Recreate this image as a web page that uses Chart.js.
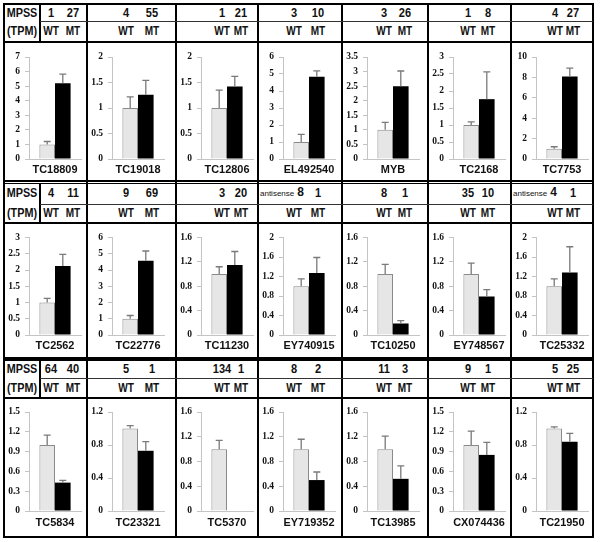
<!DOCTYPE html>
<html><head><meta charset="utf-8">
<script src="https://cdn.jsdelivr.net/npm/chart.js@4.4.0/dist/chart.umd.min.js"></script>
<style>
html,body{margin:0;padding:0;background:#fff;}
#fig{position:relative;width:600px;height:542px;overflow:hidden;font-family:"Liberation Sans",Arial,sans-serif;color:#111;}
.ln{position:absolute;background:#000;}
.tx{position:absolute;font-weight:bold;white-space:nowrap;line-height:1;color:#111;}
.note{position:absolute;white-space:nowrap;line-height:1;display:flex;align-items:baseline;color:#111;}
canvas{position:absolute;}
</style></head><body><div id="fig"></div>
<script>
// ---------- data ----------
const genes = ["TC18809","TC19018","TC12806","EL492540","MYB","TC2168","TC7753",
  "TC2562","TC22776","TC11230","EY740915","TC10250","EY748567","TC25332",
  "TC5834","TC23321","TC5370","EY719352","TC13985","CX074436","TC21950"];
const wtValues = [1,1,1,1,1,1,1, 1,1,1,1,1,1,1, 1,1,1,1,1,1,1];
const wtErrors = [0.2,0.22,0.35,0.45,0.26,0.09,0.2, 0.13,0.2,0.12,0.15,0.16,0.18,0.15, 0.15,0.035,0.14,0.16,0.21,0.21,0.02];
const mtValues = [5.2,1.26,1.42,4.84,2.5,1.76,8.1, 2.12,4.57,1.15,1.27,0.19,0.63,1.28, 0.43,0.73,0,0.5,0.52,0.85,0.84];
const mtErrors = [0.62,0.28,0.2,0.34,0.52,0.8,0.8, 0.36,0.6,0.22,0.32,0.045,0.115,0.53, 0.035,0.11,0,0.13,0.21,0.19,0.1];
const yMax  = [7,2,2,6,3.5,3,10, 3,6,1.6,2,1.6,1.6,2, 1.5,1.2,1.6,1.6,1.6,1.5,1.2];
const yStep = [1,0.5,0.5,1,0.5,0.5,2, 0.5,1,0.4,0.4,0.4,0.4,0.4, 0.3,0.4,0.4,0.4,0.4,0.3,0.4];
const mpssWT = [1,4,1,3,3,1,4, 4,9,3,8,8,35,4, 64,5,134,8,11,9,5];
const mpssMT = [27,55,21,10,26,8,27, 11,69,20,1,1,10,1, 40,1,1,2,3,1,25];
const mpssNote = ["","","","","","","", "","","","antisense","","","antisense", "","","","","","",""];
const groupLabels = ["WT","MT"];
const rowLabelTop = "MPSS", rowLabelBottom = "(TPM)";

// ---------- layout ----------
const fig = document.getElementById('fig');
const colX = [4, 87, 176, 258, 342, 428, 511, 593];
const rows = [
  {top:3,   mid:21,  hb:42,  bottom:181, plotTop:57,    plotBottom:159, numY:13,  wtY:31,  lblY:170},
  {top:183, mid:204, hb:223, bottom:358, plotTop:237.5, plotBottom:335, numY:193, wtY:213, lblY:346},
  {top:361, mid:378, hb:398, bottom:537, plotTop:412,   plotBottom:511, numY:369, wtY:388, lblY:523}
];
const wtPos = [51, 126, 222, 294, 384, 468, 555];
const mtPos = [73, 152, 241, 318, 405, 488, 573];

function line(x,y,w,h,c){const d=document.createElement('div');d.className='ln';
  d.style.cssText=`left:${x}px;top:${y}px;width:${w}px;height:${h}px;background:${c||'#000'}`;fig.appendChild(d);}
function text(s,x,y,size,sx){const d=document.createElement('div');d.className='tx';d.textContent=s;
  d.style.cssText=`left:${x}px;top:${y-size/2}px;font-size:${size}px;transform:translateX(-50%) scaleX(${sx||1});`;fig.appendChild(d);return d;}

// borders & grid lines
for(const x of colX) line(x-1,3,2,535);
line(3,3,591,2);
line(3,180,591,2); line(3,183,591,1.2);
line(3,357,591,3.5);
line(3,536,591,2);
rows.forEach(r=>{
  line(39,r.top,2,r.hb-r.top);
  line(40,r.mid,553,1,'#333');
  line(3,r.hb-1,591,2);
  text(rowLabelTop,22,r.numY,12,0.9);
  text(rowLabelBottom,22,r.wtY,12,0.9);
});

// headers
for(let i=0;i<genes.length;i++){
  const r=rows[Math.floor(i/7)], c=i%7;
  if(mpssNote[i]){
    const d=document.createElement('div');d.className='note';
    d.style.cssText=`left:${colX[c]+2}px;top:${r.numY-7}px;font-size:12px;`;
    const a=document.createElement('span');a.textContent=mpssNote[i];a.style.cssText='font-size:8px;color:#111;';
    const b=document.createElement('span');b.textContent=mpssWT[i];b.style.cssText='font-weight:bold;margin-left:3px;';
    d.appendChild(a);d.appendChild(b);fig.appendChild(d);
  } else {
    text(String(mpssWT[i]),wtPos[c],r.numY,12,0.92);
  }
  text(String(mpssMT[i]),mtPos[c],r.numY,12,0.92);
  text(groupLabels[0],wtPos[c],r.wtY,12,0.84);
  text(groupLabels[1],mtPos[c],r.wtY,12,0.84);
}

// error bar plugin
const errPlugin = {id:'errbars', afterDatasetsDraw(chart){
  const ctx=chart.ctx, ys=chart.scales.y;
  chart.data.datasets.forEach((ds,di)=>{
    const meta=chart.getDatasetMeta(di);
    meta.data.forEach((bar,j)=>{
      const e=ds.err[j]; if(!e) return;
      const v=ds.data[j];
      const y0=ys.getPixelForValue(v), y1=ys.getPixelForValue(v+e);
      ctx.save(); ctx.strokeStyle='#7a7a7a'; ctx.lineWidth=1.3;
      ctx.beginPath(); ctx.moveTo(bar.x,y0); ctx.lineTo(bar.x,y1);
      ctx.moveTo(bar.x-3.5,y1); ctx.lineTo(bar.x+3.5,y1); ctx.stroke(); ctx.restore();
    });
  });
}};

const AXIS_W = 23, PLOT_W = 52;
for(let i=0;i<genes.length;i++){
  const r=rows[Math.floor(i/7)], c=i%7;
  const left=colX[c]+1, width=colX[c+1]-colX[c]-2;
  const top=r.hb+1, height=r.bottom-r.hb-2;
  const cv=document.createElement('canvas');
  cv.width=width; cv.height=height;
  cv.style.left=left+'px'; cv.style.top=top+'px';
  cv.style.width=width+'px'; cv.style.height=height+'px';
  fig.appendChild(cv);
  const axisW = AXIS_W + (colX[c]+1 - left) + 1;
  new Chart(cv.getContext('2d'), {
    type:'bar',
    data:{labels:[genes[i]], datasets:[
      {label:groupLabels[0], data:[wtValues[i]], err:[wtErrors[i]], backgroundColor:'#e6e6e6', borderColor:'#8a8a8a', borderWidth:1},
      {label:groupLabels[1], data:[mtValues[i]], err:[mtErrors[i]], backgroundColor:'#000', borderColor:'#000', borderWidth:0}
    ]},
    options:{
      responsive:false, animation:false, devicePixelRatio:1,
      categoryPercentage:0.6, barPercentage:1,
      layout:{padding:{top:r.plotTop-top, bottom:(top+height)-r.plotBottom, left:0, right:width-axisW-PLOT_W}},
      plugins:{legend:{display:false}, tooltip:{enabled:false}, title:{display:false}},
      scales:{
        x:{grid:{display:false,drawTicks:false}, border:{display:true,color:'#c4c4c4',width:1},
           ticks:{display:false}, afterFit(s){s.height=0;}},
        y:{min:0, max:yMax[i],
           ticks:{stepSize:yStep[i], color:'#111', padding:5,
             font:{family:'"Liberation Serif","Times New Roman",serif', weight:'bold', size:9.5},
             callback:v=>String(Number(Number(v).toFixed(2)))},
           grid:{drawOnChartArea:false, tickLength:4, color:'#c4c4c4'},
           border:{color:'#c4c4c4',width:1},
           afterFit(s){s.width=axisW;}}
      }
    },
    plugins:[errPlugin]
  });
  text(genes[i], colX[c]+25+PLOT_W/2, r.lblY, 11.5, 0.95);
}
</script></body></html>
